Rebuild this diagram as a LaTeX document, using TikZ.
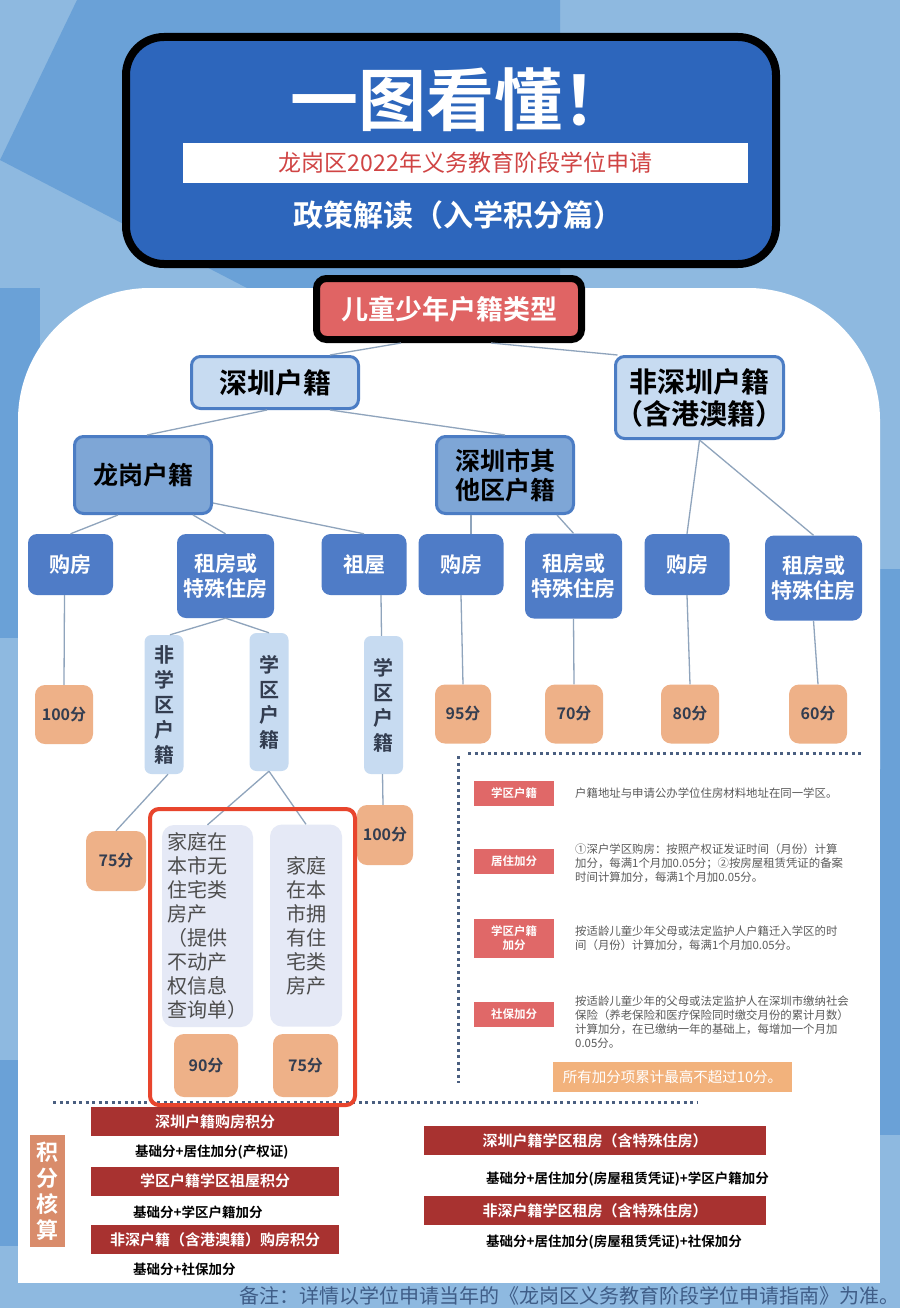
\documentclass[tikz,border=0pt]{standalone}
\usepackage{fontspec}
\setmainfont{Noto Sans CJK SC}[BoldFont={* Bold}]
\usepackage{xcolor}
\usetikzlibrary{calc,positioning}
\definecolor{bgpale}{HTML}{8EB9E0}
\definecolor{bgdeep}{HTML}{6AA1D7}
\definecolor{hdrblue}{HTML}{2D66BC}
\definecolor{rootred}{HTML}{E06464}
\definecolor{szpale}{HTML}{C7DBF1}
\definecolor{szedge}{HTML}{4C7DC4}
\definecolor{lgmid}{HTML}{7EA6D6}
\definecolor{leafblue}{HTML}{4F7CC7}
\definecolor{scorepeach}{HTML}{EEB188}
\definecolor{homepale}{HTML}{E5E9F6}
\definecolor{hlred}{HTML}{E8452D}
\definecolor{tagred}{HTML}{E06868}
\definecolor{barred}{HTML}{A83230}
\definecolor{sumtag}{HTML}{D98C6B}
\definecolor{capbar}{HTML}{F2B27C}
\definecolor{linkgray}{HTML}{8FA4BC}
\definecolor{dotgray}{HTML}{4A5F80}
\definecolor{notegray}{HTML}{5A5A5A}
\definecolor{scoreink}{HTML}{333D50}
\definecolor{homeink}{HTML}{4D4D4D}
\definecolor{footblue}{HTML}{3F5D87}
\definecolor{subred}{HTML}{D04444}
\newcommand\fsz[2]{\fontsize{#1}{#2}\selectfont}

\begin{document}
\begin{tikzpicture}[x=1pt, y=-1pt, font=\fsz{14}{17}]
  \tikzset{box/.style={inner sep=0, align=center},
           lvlone/.style={box, draw=szedge, line width=3pt, fill=szpale, rounded corners=9pt, font=\fsz{28}{32}\bfseries},
           lvltwo/.style={lvlone, fill=lgmid, font=\fsz{25}{29}\bfseries},
           leaf/.style={box, fill=leafblue, rounded corners=9pt, text=white, font=\fsz{21}{25}\bfseries},
           score/.style={box, fill=scorepeach, rounded corners=10pt, text=scoreink, font=\fsz{16}{18}\bfseries},
           vlabel/.style={box, fill=szpale, rounded corners=7pt, text=scoreink, font=\fsz{20}{25}\bfseries, minimum width=39pt},
           home/.style={box, fill=homepale, rounded corners=12pt, text=homeink, font=\fsz{20}{24}, minimum height=202pt},
           tag/.style={box, fill=tagred, text=white, font=\fsz{11.5}{14}\bfseries, minimum width=80pt},
           note/.style={anchor=west, inner sep=0, align=left, text=notegray, font=\fsz{11.4}{14}},
           sumbar/.style={box, fill=barred, text=white, font=\fsz{15}{18}\bfseries, minimum height=29pt},
           formula/.style={anchor=west, inner sep=0, font=\fsz{13.5}{16}\bfseries},
           link/.style={draw=linkgray, line width=1.3pt},
           dotrule/.style={draw=dotgray, line width=3pt, dash pattern=on 3pt off 3.5pt}}
  \useasboundingbox (0,0) rectangle (900,1308);
  % backdrop
  \fill[bgpale] (0,0) rectangle (900,1308);
  \fill[bgdeep] (77,0) -- (560,0) -- (560,288) -- (247,288) -- (0,160) -- cycle;
  \fill[bgdeep] (0,288) rectangle (40,638);
  \fill[bgdeep] (0,1060) rectangle (40,1246);
  \fill[bgdeep] (860,569) rectangle (900,1135);
  \fill[white, rounded corners=132pt] (18,288) rectangle (880,900);
  \fill[white] (18,600) rectangle (880,1283);
  % header
  \node[draw=black, line width=8pt, fill=hdrblue, rounded corners=38pt, minimum width=650pt, minimum height=227pt] (hdr) at (451,150.5) {};
  \node[text=white, font=\fsz{68}{70}\bfseries] (title) at (460,100) {一图看懂！};
  \node[fill=white, minimum width=565pt, minimum height=40pt, text=subred, font=\fsz{23}{25}] (strip) at (465.5,163) {龙岗区2022年义务教育阶段学位申请};
  \node[text=white, font=\fsz{30}{32}\bfseries] (policy) at (458,215) {政策解读（入学积分篇）};
  % tree
  \node[box, draw=black, line width=7pt, fill=rootred, rounded corners=10pt, minimum width=265pt, minimum height=61pt, text=white, font=\fsz{27}{30}\bfseries] (root) at (449,309) {儿童少年户籍类型};
  \node[lvlone, minimum width=167pt, minimum height=52pt] (sz) at (275,382.5) {深圳户籍};
  \node[lvlone, minimum width=168pt, minimum height=82pt] (nsz) at (699.5,397.5) {非深圳户籍\\\hspace*{-0.5em}（含港澳籍）\hspace*{-0.5em}};
  \node[lvltwo, minimum width=137pt, minimum height=77pt] (lg) at (143,475) {龙岗户籍};
  \node[lvltwo, minimum width=137pt, minimum height=77pt] (szq) at (505,475) {深圳市其\\他区户籍};
  \node[leaf, minimum width=85pt, minimum height=61pt] (lgBuy) at (70.5,564.5) {购房};
  \node[leaf, minimum width=97pt, minimum height=84pt] (lgRent) at (225.5,576) {租房或\\特殊住房};
  \node[leaf, minimum width=85pt, minimum height=61pt] (lgZu) at (364,564.5) {祖屋};
  \node[leaf, minimum width=85pt, minimum height=61pt] (szqBuy) at (461,564.5) {购房};
  \node[leaf, minimum width=97pt, minimum height=85pt] (szqRent) at (573.5,576) {租房或\\特殊住房};
  \node[leaf, minimum width=85pt, minimum height=61pt] (nszBuy) at (687,564.5) {购房};
  \node[leaf, minimum width=97pt, minimum height=85pt] (nszRent) at (813.5,578) {租房或\\特殊住房};
  \node[score, minimum width=58pt, minimum height=59pt] (pt100a) at (64,714.5) {100分};
  \node[vlabel, minimum height=139pt] (lgNon) at (164,704.5) {非\\学\\区\\户\\籍};
  \node[vlabel, minimum height=138pt] (lgSch) at (269,702) {学\\区\\户\\籍};
  \node[vlabel, minimum height=138pt] (zuSch) at (383.5,705) {学\\区\\户\\籍};
  \node[score, minimum width=56pt, minimum height=59pt] (pt95) at (463,714) {95分};
  \node[score, minimum width=58pt, minimum height=59pt] (pt70) at (574,714) {70分};
  \node[score, minimum width=58pt, minimum height=59pt] (pt80) at (690,714) {80分};
  \node[score, minimum width=58pt, minimum height=59pt] (pt60) at (818,714) {60分};
  \node[score, minimum width=60pt, minimum height=60pt] (pt75a) at (116,861) {75分};
  \node[home, minimum width=91pt, align=left] (homeNo) at (207.5,926) {家庭在\\本市无\\住宅类\\房产\\（提供\\不动产\\权信息\\查询单）};
  \node[home, minimum width=72pt] (homeYes) at (306,925.5) {家庭\\在本\\市拥\\有住\\宅类\\房产};
  \node[score, minimum width=56pt, minimum height=60pt] (pt100b) at (385,835) {100分};
  \node[score, minimum width=64pt, minimum height=63pt] (pt90) at (206,1065.5) {90分};
  \node[score, minimum width=65pt, minimum height=63pt] (pt75b) at (305.5,1065.5) {75分};
  % links
  \draw[link] ($(root.south)+(-48,0)$) -- ($(sz.north)+(55,0)$);
  \draw[link] ($(root.south)+(42,0)$) -- ($(nsz.north)+(-82,0)$);
  \draw[link] ($(sz.south)+(-8,0)$) -- ($(lg.north)+(4,0)$);
  \draw[link] ($(sz.south)+(55,0)$) -- (szq.north);
  \draw[link] ($(lg.south)+(-25,0)$) -- (lgBuy.north);
  \draw[link] ($(lg.south)+(50,0)$) -- (lgRent.north);
  \draw[link] ($(lg.east)+(0,28)$) -- (lgZu.north);
  \draw[link] ($(szq.south)+(-34,0)$) -- ($(szqBuy.north)+(10,0)$);
  \draw[link] ($(szq.south)+(52,0)$) -- (szqRent.north);
  \draw[link] (nsz.south) -- (nszBuy.north);
  \draw[link] (nsz.south) -- (nszRent.north);
  \draw[link] ($(lgBuy.south)+(-6,0)$) -- (pt100a.north);
  \draw[link] (lgRent.south) -- ($(lgNon.north)+(6,0)$);
  \draw[link] (lgRent.south) -- (lgSch.north);
  \draw[link] ($(lgZu.south)+(17,0)$) -- ($(zuSch.north)+(-2,0)$);
  \draw[link] (szqBuy.south) -- (pt95.north);
  \draw[link] (szqRent.south) -- (pt70.north);
  \draw[link] (nszBuy.south) -- (pt80.north);
  \draw[link] (nszRent.south) -- (pt60.north);
  \draw[link] ($(lgNon.south)+(4,0)$) -- (pt75a.north);
  \draw[link] (lgSch.south) -- (homeNo.north);
  \draw[link] (lgSch.south) -- (homeYes.north);
  \draw[link] ($(zuSch.south)+(-1,0)$) -- ($(pt100b.north)+(-2,0)$);
  % legend
  \draw[dotrule] (468,753) -- (863,753);
  \draw[dotrule] (458,756) -- (458,1083);
  \node[tag, minimum height=25pt] (tagA) at (514,793) {学区户籍};
  \node[note] (noteA) at (575,793) {户籍地址与申请公办学位住房材料地址在同一学区。};
  \node[tag, minimum height=25pt] (tagB) at (514,861.5) {居住加分};
  \node[note] (noteB) at (575,863) {①深户学区购房：按照产权证发证时间（月份）计算\\加分，每满1个月加0.05分；②按房屋租赁凭证的备案\\时间计算加分，每满1个月加0.05分。};
  \node[tag, minimum height=39pt] (tagC) at (514,938.5) {学区户籍\\加分};
  \node[note] (noteC) at (575,938.5) {按适龄儿童少年父母或法定监护人户籍迁入学区的时\\间（月份）计算加分，每满1个月加0.05分。};
  \node[tag, minimum height=25pt] (tagD) at (514,1014.5) {社保加分};
  \node[note] (noteD) at (575,1022) {按适龄儿童少年的父母或法定监护人在深圳市缴纳社会\\保险（养老保险和医疗保险同时缴交月份的累计月数）\\计算加分，在已缴纳一年的基础上，每增加一个月加\\0.05分。};
  \node[box, fill=capbar, text=white, minimum width=239pt, minimum height=30pt, font=\fsz{14.5}{16}] (cap) at (672.5,1077) {所有加分项累计最高不超过10分。};
  % tally
  \draw[dotrule] (53,1102) -- (697,1102);
  \node[draw=hlred, line width=4pt, rounded corners=9pt, minimum width=205pt, minimum height=296pt] (focus) at (252.5,957) {};
  \node[box, fill=sumtag, text=white, minimum width=35pt, minimum height=112pt, font=\fsz{22}{26}\bfseries] (tally) at (47.5,1191) {积\\分\\核\\算};
  \node[sumbar, minimum width=248pt] (barA) at (215,1121.5) {深圳户籍购房积分};
  \node[formula] (fmA) at (135,1152) {基础分+居住加分(产权证)};
  \node[sumbar, minimum width=248pt] (barB) at (215,1181) {学区户籍学区祖屋积分};
  \node[formula] (fmB) at (133,1212) {基础分+学区户籍加分};
  \node[sumbar, minimum width=248pt] (barC) at (215,1239.5) {非深户籍（含港澳籍）购房积分};
  \node[formula] (fmC) at (133,1269) {基础分+社保加分};
  \node[sumbar, minimum width=342pt] (barD) at (595,1140.5) {深圳户籍学区租房（含特殊住房）};
  \node[formula] (fmD) at (486,1179) {基础分+居住加分(房屋租赁凭证)+学区户籍加分};
  \node[sumbar, minimum width=342pt] (barE) at (595,1210.5) {非深户籍学区租房（含特殊住房）};
  \node[formula] (fmE) at (486,1242) {基础分+居住加分(房屋租赁凭证)+社保加分};
  % footnote
  \node[anchor=west, inner sep=0, text=footblue, font=\fsz{20}{22}] (foot) at (239,1296) {备注：详情以学位申请当年的《龙岗区义务教育阶段学位申请指南》为准。};
\end{tikzpicture}
\end{document}
